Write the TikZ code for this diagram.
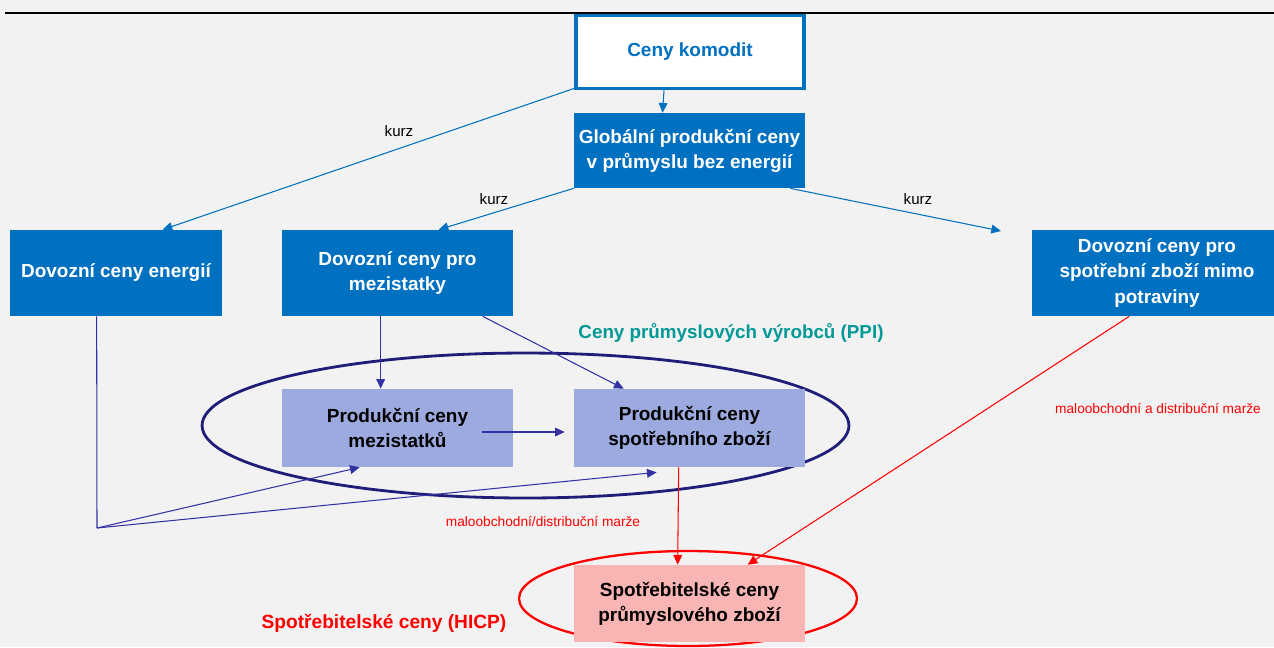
\documentclass[tikz,border=0pt]{standalone}
\usepackage{fontspec}
\setmainfont{Liberation Sans}
\usepackage{tikz}
\usetikzlibrary{calc,arrows.meta}

\definecolor{modra}{RGB}{0,112,192}
\definecolor{levandule}{RGB}{157,170,224}
\definecolor{ruzova}{RGB}{249,180,180}
\definecolor{namornicka}{RGB}{30,30,120}
\definecolor{fialova}{RGB}{50,50,165}
\definecolor{tyrkys}{RGB}{0,153,150}
\definecolor{pozadi}{RGB}{242,242,242}

\tikzset{
	hlavni/.style={draw=modra, line width=2.2pt, fill=white, text=modra, font=\bfseries\fontsize{10.8}{14}\selectfont, minimum width=4.56cm, minimum height=1.46cm},
	dovoz/.style={fill=modra, text=white, align=center, font=\bfseries\fontsize{10.8}{14.3}\selectfont, inner sep=0pt},
	ppibox/.style={fill=levandule, text=black, align=center, font=\bfseries\fontsize{10.8}{14.3}\selectfont, inner sep=0pt, minimum width=4.62cm, minimum height=1.56cm},
	hicpbox/.style={fill=ruzova, text=black, align=center, font=\bfseries\fontsize{10.8}{14.3}\selectfont, inner sep=0pt, minimum width=4.62cm, minimum height=1.54cm},
	kurzsipka/.style={draw=modra, line width=0.6pt, -{Triangle[length=5.5pt,width=5pt]}},
	ppisipka/.style={draw=fialova, line width=0.6pt, -{Triangle[length=5.5pt,width=5pt]}},
	marzesipka/.style={draw=red, line width=0.6pt, -{Triangle[length=5.5pt,width=5pt]}},
	popisek/.style={font=\fontsize{8.6}{10}\selectfont, text=black},
	marze/.style={font=\fontsize{7.8}{9}\selectfont, text=red},
}

\begin{document}
\begin{tikzpicture}[x=0.02cm, y=-0.02cm]
		%%%%% START %%%%%
		
		\useasboundingbox[fill=pozadi] (0, 0) rectangle (1274, 647);
		\draw[line width=1.2pt, color=black] (5, 13) -- (1274, 13);
		
		% ellipsy pod ramecky
		\draw[line width=1.6pt, color=namornicka] (525.5, 425.5) ellipse [x radius=6.47cm, y radius=1.45cm];
		\draw[line width=1.3pt, color=red] (688, 598.5) ellipse [x radius=3.38cm, y radius=0.95cm];
		
		% ramecky
		\node[hlavni] (komodit) at (690, 52) {Ceny komodit};
		\node[dovoz, minimum width=4.62cm, minimum height=1.5cm] (globalni) at (689.5, 150.5) {Globální produkční ceny\\v průmyslu bez energií};
		\node[dovoz, minimum width=4.24cm, minimum height=1.72cm] (energie) at (116, 273) {Dovozní ceny energií};
		\node[dovoz, minimum width=4.62cm, minimum height=1.72cm] (dovmezi) at (397.5, 273) {Dovozní ceny pro\\mezistatky};
		\node[dovoz, minimum width=5.02cm, minimum height=1.72cm] (dovspotr) at (1157, 273) {Dovozní ceny pro\\spotřební zboží mimo\\potraviny};
		
		\node[ppibox] (ppimezi) at (397.5, 428) {Produkční ceny\\mezistatků};
		\node[ppibox] (ppispotr) at (689.5, 428) {Produkční ceny\\spotřebního zboží};
		\node[hicpbox] (hicp) at (689.5, 603.5) {Spotřebitelské ceny\\průmyslového zboží};
		
		% popisky
		\node[popisek] (kurz1) at (399, 131) {kurz};
		\node[popisek] (kurz2) at (494, 199) {kurz};
		\node[popisek] (kurz3) at (918, 199) {kurz};
		\node[font=\bfseries\fontsize{10.7}{12}\selectfont, text=tyrkys] (ppi) at (731, 333) {Ceny průmyslových výrobců (PPI)};
		\node[font=\bfseries\fontsize{10.9}{12}\selectfont, text=red] (hicplabel) at (384, 623) {Spotřebitelské ceny (HICP)};
		\node[marze] (marze1) at (1158, 409) {maloobchodní a distribuční marže};
		\node[marze] (marze2) at (543, 522) {maloobchodní/distribuční marže};
		
		% sipky kurzu
		\draw[kurzsipka] ($(komodit.south)+(-26, 0)$) -- ($(globalni.north)+(-27, 0)$);
		\draw[kurzsipka] ($(komodit.south west)+(0, -2)$) -- ($(energie.north west)+(153, 0)$);
		\draw[kurzsipka] (globalni.south west) -- ($(dovmezi.north west)+(157, 0)$);
		\coordinate (konec) at (1001, 231);
		\draw[kurzsipka] ($(globalni.south east)+(-15, 0)$) -- (konec);
		
		% vstupy do PPI
		\draw[ppisipka] ($(dovmezi.south west)+(99, 0)$) -- ($(ppimezi.north west)+(99, 0)$);
		\draw[ppisipka] ($(dovmezi.south west)+(201, 0)$) -- ($(ppispotr.north west)+(50, 0)$);
		\draw[ppisipka] ($(ppimezi.east)+(-31, 4)$) -- ($(ppispotr.west)+(-9, 4)$);
		\coordinate (uzel) at (97, 528);
		\draw[draw=fialova, line width=0.6pt] ($(energie.south west)+(87, 0)$) -- (uzel);
		\draw[ppisipka] (uzel) -- ($(ppimezi.south west)+(78, 0)$);
		\draw[ppisipka] (uzel) -- ($(ppispotr.south west)+(83, 5)$);
		
		% marze
		\draw[marzesipka] ($(ppispotr.south west)+(105, 0)$) -- ($(hicp.north west)+(104, 0)$);
		\draw[marzesipka] ($(dovspotr.south west)+(98, 0)$) -- ($(hicp.north west)+(174, 0)$);
		
		%%%%% END %%%%%
\end{tikzpicture}
\end{document}
